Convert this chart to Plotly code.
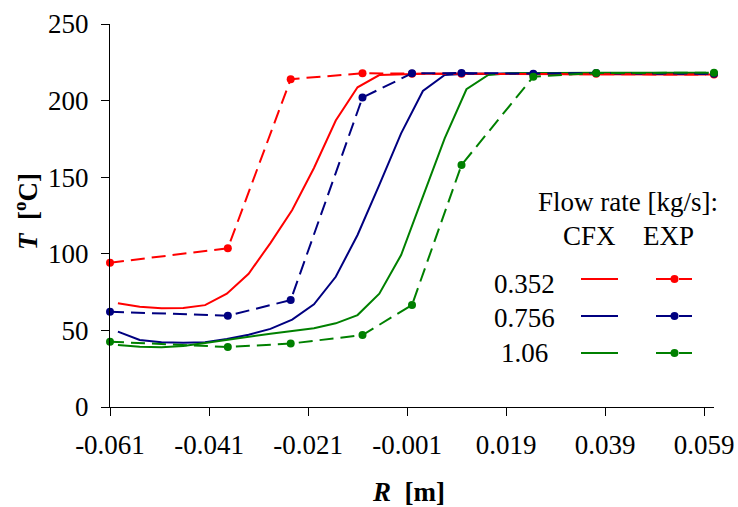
import plotly.graph_objects as go

# ---- data ----
cfx_r = [-0.0594, -0.0550, -0.0506, -0.0462, -0.0418, -0.0374, -0.0330, -0.0286,
         -0.0242, -0.0198, -0.0154, -0.0110, -0.0066, -0.0022, 0.0022, 0.0066,
         0.0110, 0.0154, 0.0198, 0.0242, 0.0286, 0.0330, 0.0374, 0.0418,
         0.0462, 0.0506, 0.0550, 0.0594]
cfx_0352 = [67.7, 65.5, 64.4, 64.6, 66.5, 74.0, 87.0, 107.0, 128.6, 156.0, 187.0,
            208.7, 216.7, 217.3, 217.5, 217.5, 217.5, 217.5, 217.5, 217.5, 217.4,
            217.4, 217.3, 217.3, 217.2, 217.2, 217.1, 217.0]
cfx_0756 = [49.2, 43.7, 42.2, 42.0, 42.3, 44.4, 47.2, 51.0, 57.0, 67.0, 85.0,
            112.3, 145.0, 178.6, 206.3, 216.7, 217.5, 217.7, 217.8, 217.8, 217.8,
            217.8, 217.8, 217.7, 217.7, 217.6, 217.6, 217.5]
cfx_106 = [40.5, 39.4, 39.0, 39.8, 41.8, 43.9, 46.0, 47.8, 49.6, 51.4, 54.6,
           60.0, 74.0, 99.2, 137.3, 175.4, 207.4, 216.7, 217.8, 218.0, 218.1,
           218.1, 218.2, 218.2, 218.2, 218.2, 218.2, 218.2]

exp_r = [-0.061, -0.0372, -0.0245, -0.010, 0.0, 0.010, 0.0245, 0.0372, 0.061]
exp_0352 = [94.2, 103.6, 214.0, 217.8, 217.6, 217.5, 217.2, 217.5, 217.0]
exp_0756 = [62.2, 59.6, 69.8, 202.0, 217.8, 218.0, 217.6, 218.0, 217.5]
exp_106 = [42.6, 39.2, 41.4, 47.0, 66.6, 158.0, 215.6, 218.0, 218.2]

x_ticks = [-0.061, -0.041, -0.021, -0.001, 0.019, 0.039, 0.059]
x_ticktext = ["-0.061", "-0.041", "-0.021", "-0.001", "0.019", "0.039", "0.059"]
y_ticks = [0, 50, 100, 150, 200, 250]

flow_labels = ["0.352", "0.756", "1.06"]
colors = ["#FF0000", "#000080", "#008000"]

FONT = "Liberation Serif"
FS = 27
DASH = "14px,7px"
tfont = dict(family=FONT, size=FS, color="black")

fig = go.Figure()
for ys, c in zip([cfx_0352, cfx_0756, cfx_106], colors):
    fig.add_trace(go.Scatter(x=cfx_r, y=ys, mode="lines",
                             line=dict(color=c, width=2), cliponaxis=False,
                             showlegend=False))
for ys, c in zip([exp_0352, exp_0756, exp_106], colors):
    fig.add_trace(go.Scatter(x=exp_r, y=ys, mode="lines+markers",
                             line=dict(color=c, width=2, dash=DASH),
                             marker=dict(color=c, size=8), cliponaxis=False,
                             showlegend=False))

# ---- plot geometry (pixels) for legend placement ----
W, H = 738, 507
L, R, T, B = 110, 24, 24, 100
pw, ph = W - L - R, H - T - B


def px(x):
    return (x - L) / pw


def py(y):
    return (H - B - y) / ph


annotations = [
    dict(text="Flow rate [kg/s]:", x=px(720), y=py(202), xanchor="right", yanchor="middle"),
    dict(text="CFX", x=px(589), y=py(236), xanchor="center", yanchor="middle"),
    dict(text="EXP", x=px(668), y=py(236), xanchor="center", yanchor="middle"),
    dict(text="<b><i>T</i>  [<sup>o</sup>C]</b>", x=px(26), y=py(212), textangle=-90,
         xanchor="center", yanchor="middle"),
    dict(text="<b><i>R</i>  [m]</b>", x=px(408), y=py(492), xanchor="center", yanchor="middle"),
]
shapes = []
row_line_y = [279, 316, 353]
row_text_y = [284, 318, 353]
for lab, c, ly, ty in zip(flow_labels, colors, row_line_y, row_text_y):
    annotations.append(dict(text=lab, x=px(524), y=py(ty), xanchor="center", yanchor="middle"))
    shapes.append(dict(type="line", xref="paper", yref="paper", x0=px(581), x1=px(618),
                       y0=py(ly), y1=py(ly), line=dict(color=c, width=2)))
    shapes.append(dict(type="line", xref="paper", yref="paper", x0=px(656), x1=px(671),
                       y0=py(ly), y1=py(ly), line=dict(color=c, width=2)))
    shapes.append(dict(type="line", xref="paper", yref="paper", x0=px(679), x1=px(692),
                       y0=py(ly), y1=py(ly), line=dict(color=c, width=2)))
    shapes.append(dict(type="circle", xref="paper", yref="paper",
                       x0=px(670.5), x1=px(678.5), y0=py(ly + 4), y1=py(ly - 4),
                       fillcolor=c, line=dict(color=c, width=0)))

for a in annotations:
    a.update(xref="paper", yref="paper", showarrow=False, font=tfont)

fig.update_layout(
    template="none",
    width=W, height=H,
    margin=dict(l=L, r=R, t=T, b=B, autoexpand=False),
    paper_bgcolor="white", plot_bgcolor="white",
    font=tfont,
    annotations=annotations, shapes=shapes,
    xaxis=dict(range=[-0.061, 0.061], tickvals=x_ticks, ticktext=x_ticktext,
               tickfont=tfont, automargin=False,
               showgrid=False, zeroline=False, showline=True, linecolor="black",
               linewidth=1, ticks="outside", ticklen=8, tickcolor="black",
               tickwidth=1, ticklabelstandoff=6),
    yaxis=dict(range=[0, 250], tickvals=y_ticks, tickfont=tfont, automargin=False,
               showgrid=False, zeroline=False,
               showline=True, linecolor="black", linewidth=1, ticks="outside",
               ticklen=8, tickcolor="black", tickwidth=1, ticklabelstandoff=7),
)

fig.write_html("out.html")
